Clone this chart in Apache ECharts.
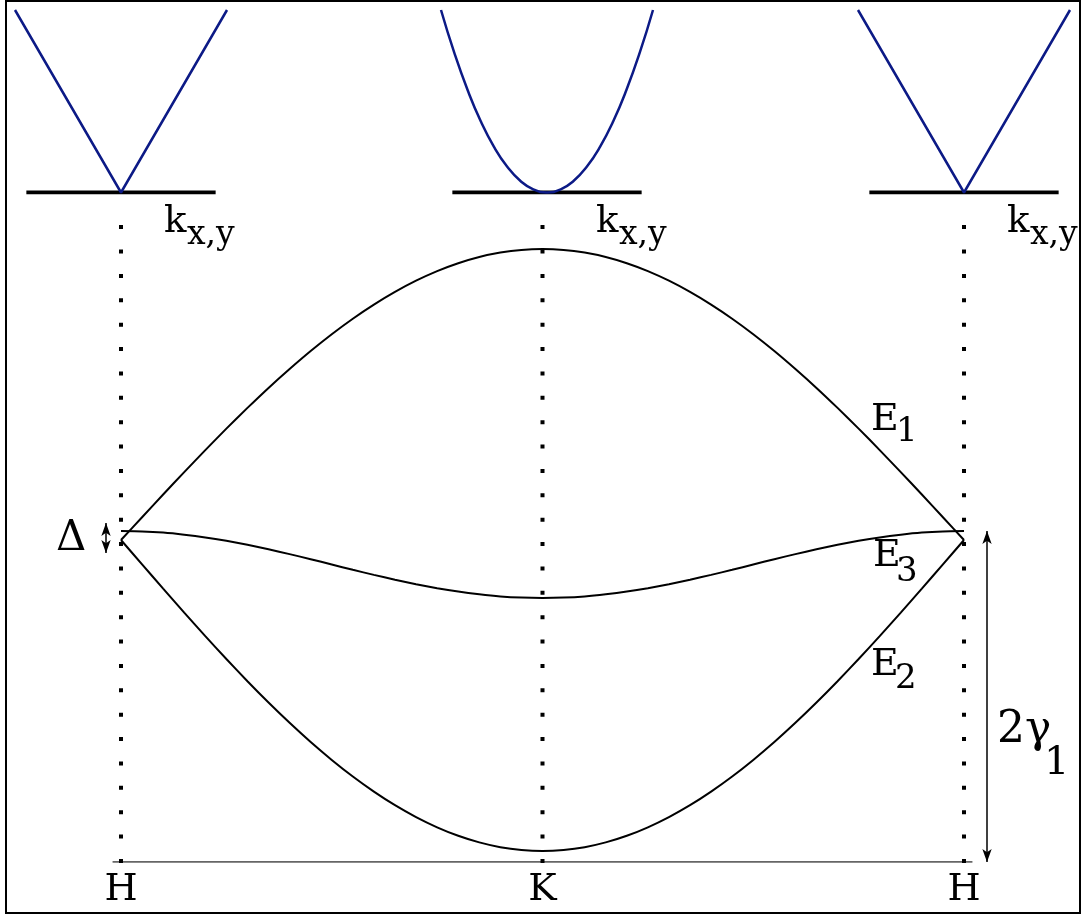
<!DOCTYPE html>
<html>
<head>
<meta charset="utf-8">
<script src="https://cdn.jsdelivr.net/npm/echarts@6/dist/echarts.min.js"></script>
<style>
  html, body { margin: 0; padding: 0; background: #fff; }
  #chart { width: 1087px; height: 917px; }
</style>
</head>
<body>
<div id="chart"></div>
<script>
// band path H - K - H (0 = H, 1 = K, 2 = H)
const kPath = [0, 0.05, 0.1, 0.15, 0.2, 0.25, 0.3, 0.35, 0.4, 0.45, 0.5, 0.55, 0.6, 0.65, 0.7, 0.75, 0.8, 0.85, 0.9, 0.95,
  1, 1.05, 1.1, 1.15, 1.2, 1.25, 1.3, 1.35, 1.4, 1.45, 1.5, 1.55, 1.6, 1.65, 1.7, 1.75, 1.8, 1.85, 1.9, 1.95, 2];
const e1 = [0, 0.228, 0.455, 0.679, 0.899, 1.114, 1.321, 1.521, 1.710, 1.890, 2.058, 2.213, 2.354, 2.481, 2.593, 2.689, 2.768, 2.830, 2.874, 2.901,
  2.91, 2.901, 2.874, 2.830, 2.768, 2.689, 2.593, 2.481, 2.354, 2.213, 2.058, 1.890, 1.710, 1.521, 1.321, 1.114, 0.899, 0.679, 0.455, 0.228, 0];
const e2 = [0, -0.244, -0.486, -0.726, -0.961, -1.190, -1.412, -1.625, -1.828, -2.020, -2.199, -2.365, -2.516, -2.652, -2.771, -2.873, -2.958, -3.024, -3.072, -3.100,
  -3.11, -3.100, -3.072, -3.024, -2.958, -2.873, -2.771, -2.652, -2.516, -2.365, -2.199, -2.020, -1.828, -1.625, -1.412, -1.190, -0.961, -0.726, -0.486, -0.244, 0];
const e3 = [0.09, 0.086, 0.074, 0.053, 0.026, -0.008, -0.048, -0.093, -0.141, -0.192, -0.245, -0.298, -0.349, -0.397, -0.442, -0.482, -0.516, -0.543, -0.564, -0.576,
  -0.58, -0.576, -0.564, -0.543, -0.516, -0.482, -0.442, -0.397, -0.349, -0.298, -0.245, -0.192, -0.141, -0.093, -0.048, -0.008, 0.026, 0.053, 0.074, 0.086, 0.09];
const pathTicks = [0, 1, 2];
const pathLabels = ['H', 'K', 'H'];
const baseRange = [-0.02, 2.02];     // horizontal k-path line
const eBottom = -3.22;               // energy at the k-path line
const dotRange = [-3.23, 3.15];      // extent of the dotted guides
const gapArrow = [0.17, -0.13];      // Δ marker
const gammaArrow = [0.09, -3.22];    // 2γ1 marker

// insets: dispersion in k_x,y near H, K, H
const coneK = [-1.12, 0, 1.12];
const coneE = [1, 0, 1];
const paraK = [-1.12, -0.98, -0.84, -0.70, -0.56, -0.42, -0.28, -0.14, 0, 0.14, 0.28, 0.42, 0.56, 0.70, 0.84, 0.98, 1.12];
const paraE = [1, 0.766, 0.563, 0.39, 0.25, 0.141, 0.063, 0.016, 0, 0.016, 0.063, 0.141, 0.25, 0.39, 0.563, 0.766, 1];
const insetAxis = [-1, 1];           // black k axis under each inset

const blue = '#0c1a86';
const serif = 'DejaVu Serif';

const zip = (xs, ys) => xs.map((x, i) => [x, ys[i]]);

// ---- grids: 0 = band structure, 1..3 = insets
const grids = [
  { left: 57.775, width: 969.45, top: 200, height: 662 },
  { left: 15, width: 212, top: 10, height: 182.5 },
  { left: 441, width: 212, top: 10, height: 182.5 },
  { left: 858, width: 212, top: 10, height: 182.5 },
];

const xAxes = [{
  type: 'value', gridIndex: 0, min: -0.15, max: 2.15,
  axisLine: { show: false },
  axisTick: { show: false },
  splitLine: { show: false },
  axisLabel: {
    customValues: pathTicks,
    formatter: (v) => pathLabels[pathTicks.indexOf(v)],
    fontFamily: serif, fontSize: 38, color: '#000', margin: 9
  }
}];
const yAxes = [{ type: 'value', gridIndex: 0, min: -3.22, max: 3.40, show: false }];

for (let i = 1; i <= 3; i++) {
  xAxes.push({ type: 'value', gridIndex: i, min: -1.12, max: 1.12, show: false });
  yAxes.push({ type: 'value', gridIndex: i, min: 0, max: 1, show: false });
}

const series = [];

// k-path line H - K - H
series.push({
  type: 'line', xAxisIndex: 0, yAxisIndex: 0, silent: true, showSymbol: false, z: 1,
  data: [[baseRange[0], eBottom], [baseRange[1], eBottom]],
  lineStyle: { color: '#333', width: 1.5, cap: 'butt' }
});

// dotted guides at H, K, H
pathTicks.forEach((t) => {
  series.push({
    type: 'line', xAxisIndex: 0, yAxisIndex: 0, silent: true, showSymbol: false, z: 2,
    data: [[t, dotRange[0]], [t, dotRange[1]]],
    lineStyle: { color: '#000', width: 4, type: [4, 20.38], cap: 'butt' }
  });
});

// bands
[e1, e2, e3].forEach((e) => {
  series.push({
    type: 'line', xAxisIndex: 0, yAxisIndex: 0, silent: true, showSymbol: false, smooth: 0.2, z: 3,
    data: zip(kPath, e),
    lineStyle: { color: '#000', width: 2 }
  });
});

// Δ and 2γ1 arrows
series.push({
  type: 'line', xAxisIndex: 0, yAxisIndex: 0, silent: true, showSymbol: false,
  data: [[2.0546, gammaArrow[0]], [2.0546, gammaArrow[1]]],
  lineStyle: { width: 0, opacity: 0 },
  markLine: {
    silent: true, symbol: ['arrow', 'arrow'], symbolSize: [7, 13],
    label: { show: false },
    lineStyle: { color: '#000', width: 1.5, type: 'solid', opacity: 1 },
    data: [
      [{ coord: [-0.0356, gapArrow[0]] }, { coord: [-0.0356, gapArrow[1]] }],
      [{ coord: [2.0546, gammaArrow[0]] }, { coord: [2.0546, gammaArrow[1]] }]
    ]
  }
});

// insets: black k axis + blue dispersion
[[coneK, coneE, false], [paraK, paraE, true], [coneK, coneE, false]].forEach(([k, e, sm], i) => {
  series.push({
    type: 'line', xAxisIndex: i + 1, yAxisIndex: i + 1, silent: true, showSymbol: false, z: 2,
    data: [[insetAxis[0], 0], [insetAxis[1], 0]],
    lineStyle: { color: '#000', width: 4, cap: 'butt' }
  });
  series.push({
    type: 'line', xAxisIndex: i + 1, yAxisIndex: i + 1, silent: true, showSymbol: false,
    clip: false, smooth: sm, z: 3,
    data: zip(k, e),
    lineStyle: { color: blue, width: 2.5 }
  });
});

// text helper
const txt = (x, y, s, size, family) => ({
  type: 'text', x: x, y: y, silent: true,
  style: { text: s, fontSize: size, fontFamily: family || serif, fill: '#000', align: 'left', verticalAlign: 'middle' }
});

const graphic = [
  { type: 'rect', shape: { x: 6, y: 1, width: 1074, height: 912 }, style: { stroke: '#000', lineWidth: 2, fill: 'none' }, silent: true },
  txt(164, 222, 'k', 37), txt(187, 235, 'x,y', 33),
  txt(596, 222, 'k', 37), txt(619, 235, 'x,y', 33),
  txt(1007, 222, 'k', 37), txt(1030, 235, 'x,y', 33),
  txt(871, 420, 'E', 38), txt(896, 432, '1', 34),
  txt(873, 556, 'E', 38), txt(896, 572, '3', 34),
  txt(871, 665, 'E', 38), txt(895, 679, '2', 34),
  txt(56, 539, 'Δ', 42),
  txt(997, 731, '2γ', 44),
  txt(1044, 764, '1', 40)
];

const chart = echarts.init(document.getElementById('chart'));
chart.setOption({
  animation: false,
  backgroundColor: '#fff',
  grid: grids,
  xAxis: xAxes,
  yAxis: yAxes,
  series: series,
  graphic: graphic
});
</script>
</body>
</html>
